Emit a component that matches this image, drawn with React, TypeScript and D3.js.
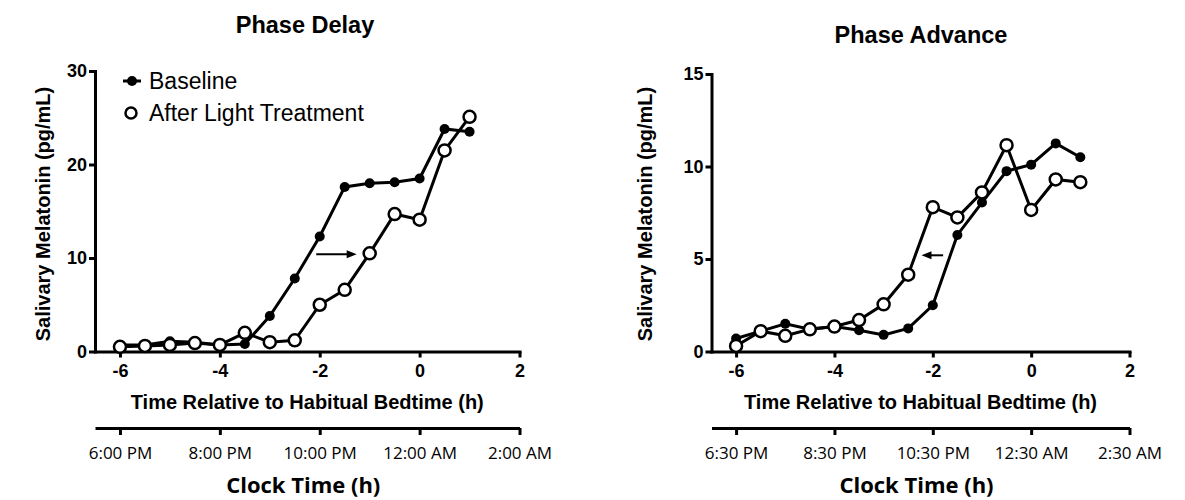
import React, { useRef, useEffect } from "react";
import * as d3 from "d3";

// time relative to habitual bedtime (h)
const hours = [-6, -5.5, -5, -4.5, -4, -3.5, -3, -2.5, -2, -1.5, -1, -0.5, 0, 0.5, 1];

// salivary melatonin (pg/mL)
const delayBaseline = [0.7, 0.7, 1.1, 1.0, 0.7, 0.8, 3.8, 7.8, 12.3, 17.6, 18.0, 18.1, 18.5, 23.8, 23.5];
const delayAfter = [0.5, 0.6, 0.7, 0.9, 0.7, 2.0, 1.0, 1.2, 5.0, 6.6, 10.5, 14.7, 14.1, 21.5, 25.1];
const advanceBaseline = [0.7, 1.1, 1.5, 1.2, 1.35, 1.15, 0.9, 1.25, 2.5, 6.3, 8.05, 9.75, 10.1, 11.25, 10.5];
const advanceAfter = [0.3, 1.1, 0.85, 1.2, 1.35, 1.7, 2.55, 4.15, 7.8, 7.25, 8.6, 11.15, 7.65, 9.3, 9.15];

const relTicks = [-6, -4, -2, 0, 2];
const delayClock = ["6:00 PM", "8:00 PM", "10:00 PM", "12:00 AM", "2:00 AM"];
const advanceClock = ["6:30 PM", "8:30 PM", "10:30 PM", "12:30 AM", "2:30 AM"];
const delayYTicks = [0, 10, 20, 30];
const advanceYTicks = [0, 5, 10, 15];

// shift arrows: [x start, x end, y]
const delayArrow = [-2.07, -1.26, 10.4];
const advanceArrow = [-1.79, -2.23, 5.2];

const legendLabels = ["Baseline", "After Light Treatment"];

const ARIAL = "'Liberation Sans', Arial, sans-serif";
const OPEN = "'Open Sans', sans-serif";

const drawPanel = (svg, p) => {
  const x = d3.scaleLinear().domain([-6.5, 2]).range([p.left, p.right]);
  const y = d3.scaleLinear().domain([0, p.yMax]).range([351.5, p.top]);
  const g = svg.append("g");

  g.append("text")
    .attr("x", p.titleX)
    .attr("y", p.titleY)
    .attr("text-anchor", "middle")
    .style("font", `bold 23.5px ${ARIAL}`)
    .text(p.title);

  // y axis
  const yAxis = g
    .append("g")
    .attr("transform", `translate(${p.left},0)`)
    .call(
      d3
        .axisLeft(y)
        .tickValues(p.yTicks)
        .tickFormat((d) => String(d))
        .tickSize(6)
        .tickSizeOuter(0)
        .tickPadding(2)
    );

  // x axis (relative time)
  const xAxis = g
    .append("g")
    .attr("transform", `translate(0,${y(0)})`)
    .call(
      d3
        .axisBottom(x)
        .tickValues(relTicks)
        .tickFormat((d) => String(d))
        .tickSize(6)
        .tickSizeOuter(0)
        .tickPadding(7)
    );

  [yAxis, xAxis].forEach((a) => {
    a.selectAll("path.domain").attr("stroke", "#000").attr("stroke-width", 3).attr("stroke-linecap", "square");
    a.selectAll(".tick line").attr("stroke", "#000").attr("stroke-width", 3);
    a.selectAll("text").attr("fill", "#000").style("font", `bold 18px ${ARIAL}`);
  });

  g.append("text")
    .attr("x", (p.left + p.right) / 2)
    .attr("y", 409)
    .attr("text-anchor", "middle")
    .style("font", `bold 20px ${ARIAL}`)
    .text("Time Relative to Habitual Bedtime (h)");

  g.append("text")
    .attr("transform", `translate(${p.yLabelX},214) rotate(-90)`)
    .attr("text-anchor", "middle")
    .style("font", `bold 20px ${ARIAL}`)
    .text("Salivary Melatonin (pg/mL)");

  // clock time axis
  const cAxis = g
    .append("g")
    .attr("transform", "translate(0,428)")
    .call(
      d3
        .axisBottom(x)
        .tickValues(relTicks)
        .tickFormat((d, i) => p.clock[i])
        .tickSize(7)
        .tickSizeOuter(0)
        .tickPadding(12)
    );
  cAxis.selectAll("path.domain").attr("stroke", "#000").attr("stroke-width", 3);
  cAxis.selectAll(".tick line").attr("stroke", "#000").attr("stroke-width", 3);
  cAxis.selectAll("text").attr("fill", "#000").style("font", `17px ${OPEN}`);

  g.append("text")
    .attr("x", (p.left + p.right) / 2 - 4)
    .attr("y", 493)
    .attr("text-anchor", "middle")
    .style("font", `bold 22px ${OPEN}`)
    .text("Clock Time (h)");

  const line = d3
    .line()
    .x((d) => x(d[0]))
    .y((d) => y(d[1]));

  // baseline series
  const base = hours.map((h, i) => [h, p.baseline[i]]);
  g.append("path").attr("d", line(base)).attr("fill", "none").attr("stroke", "#000").attr("stroke-width", 3);
  g.selectAll("circle.base")
    .data(base)
    .join("circle")
    .attr("class", "base")
    .attr("cx", (d) => x(d[0]))
    .attr("cy", (d) => y(d[1]))
    .attr("r", 5)
    .attr("fill", "#000");

  // after light treatment series
  const after = hours.map((h, i) => [h, p.after[i]]);
  g.append("path").attr("d", line(after)).attr("fill", "none").attr("stroke", "#000").attr("stroke-width", 3);
  g.selectAll("circle.after")
    .data(after)
    .join("circle")
    .attr("class", "after")
    .attr("cx", (d) => x(d[0]))
    .attr("cy", (d) => y(d[1]))
    .attr("r", 6)
    .attr("fill", "#fff")
    .attr("stroke", "#000")
    .attr("stroke-width", 2.5);

  // arrow
  const [a0, a1, ay] = p.arrow;
  const dir = Math.sign(a1 - a0);
  const tipX = x(a1);
  const yy = y(ay);
  g.append("line")
    .attr("x1", x(a0))
    .attr("x2", tipX - dir * 6)
    .attr("y1", yy)
    .attr("y2", yy)
    .attr("stroke", "#000")
    .attr("stroke-width", 2);
  g.append("path")
    .attr("d", `M${tipX},${yy} L${tipX - dir * 10},${yy - 4} L${tipX - dir * 10},${yy + 4} Z`)
    .attr("fill", "#000");

  return { x, y };
};

const App = () => {
  const svgRef = useRef();

  useEffect(() => {
    const svg = d3.select(svgRef.current);
    svg.selectAll("*").remove();

    drawPanel(svg, {
      title: "Phase Delay",
      titleX: 305,
      titleY: 33,
      left: 95,
      right: 519.5,
      top: 71,
      yMax: 30,
      yTicks: delayYTicks,
      yLabelX: 50,
      clock: delayClock,
      baseline: delayBaseline,
      after: delayAfter,
      arrow: delayArrow,
    });

    drawPanel(svg, {
      title: "Phase Advance",
      titleX: 921,
      titleY: 43,
      left: 711.5,
      right: 1129.5,
      top: 74,
      yMax: 15,
      yTicks: advanceYTicks,
      yLabelX: 652,
      clock: advanceClock,
      baseline: advanceBaseline,
      after: advanceAfter,
      arrow: advanceArrow,
    });

    // legend
    const lg = svg.append("g");
    lg.append("line").attr("x1", 123).attr("x2", 141).attr("y1", 81).attr("y2", 81).attr("stroke", "#000").attr("stroke-width", 3);
    lg.append("circle").attr("cx", 132).attr("cy", 81).attr("r", 5).attr("fill", "#000");
    lg.append("circle").attr("cx", 131).attr("cy", 113).attr("r", 5.5).attr("fill", "#fff").attr("stroke", "#000").attr("stroke-width", 2.5);
    legendLabels.forEach((t, i) => {
      lg.append("text")
        .attr("x", 149)
        .attr("y", 89 + i * 32)
        .style("font", `23px ${ARIAL}`)
        .text(t);
    });
  }, []);

  return (
    <svg
      ref={svgRef}
      width={1185}
      height={500}
      style={{ position: "absolute", left: 0, top: 0, background: "#fff" }}
    ></svg>
  );
};

export default App;
